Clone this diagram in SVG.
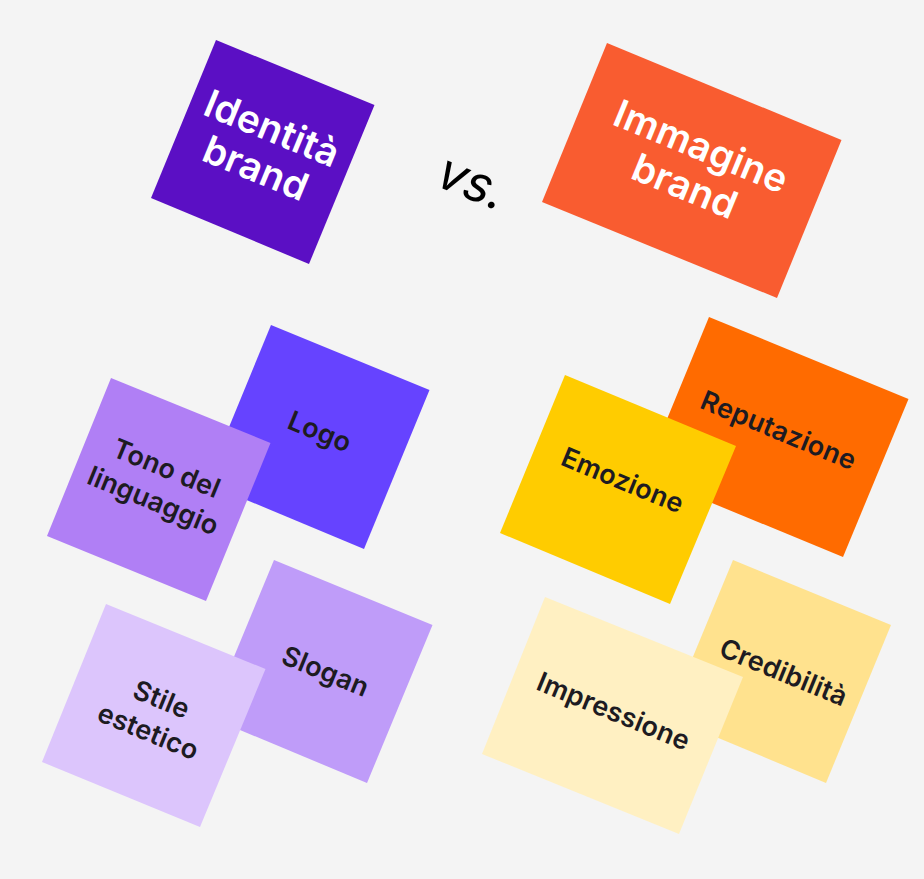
<svg xmlns="http://www.w3.org/2000/svg" width="924" height="879" viewBox="0 0 924 879">
<style>
text{font-family:Inter,"Liberation Sans",sans-serif;text-anchor:middle}
.h{font-size:38.5px;font-weight:600;fill:#fff;letter-spacing:.2px}
.t{font-size:27px;font-weight:600;fill:#1d1b22;letter-spacing:.2px}
</style>
<rect width="924" height="879" fill="#f4f4f4"/>
<g id="identita"><polygon points="216,40 374.500,105 309,264 151,198" fill="#5b0fc4"/>
<text class="h" transform="translate(267,141) rotate(22.4)"><tspan x="0" y="0">Identità</tspan><tspan x="0" y="43">brand</tspan></text></g>
<g id="vs"><text transform="translate(471,186) rotate(22.4)" y="13" font-size="51" font-style="italic" fill="#000">vs.</text></g>
<g id="immagine"><polygon points="607,43 841.500,140 777,298 542,202" fill="#f95c30"/>
<text class="h" transform="translate(696,159) rotate(22.4)"><tspan x="0" y="0">Immagine</tspan><tspan x="0" y="43">brand</tspan></text></g>
<g id="logo"><polygon points="271,325 429.500,390 364,549 206,483" fill="#6643ff"/>
<text class="t" transform="translate(320,431) rotate(22.4)" y="10">Logo</text></g>
<g id="tono"><polygon points="111,378 270.500,443 206,601 47,536" fill="#b07ff5"/>
<text class="t" transform="translate(163,477) rotate(22.4)"><tspan x="0" y="0">Tono del</tspan><tspan x="0" y="35">linguaggio</tspan></text></g>
<g id="slogan"><polygon points="274,560 432.500,625 367,783 209,717" fill="#bf9cf9"/>
<text class="t" transform="translate(322,680) rotate(22.4)"><tspan x="0" y="0">Slogan</tspan></text></g>
<g id="stile"><polygon points="106,604 265.500,669 200,827 42,762" fill="#dcc5fc"/>
<text class="t" transform="translate(158,708) rotate(22.4)"><tspan x="0" y="0">Stile</tspan><tspan x="0" y="35">estetico</tspan></text></g>
<g id="reputazione"><polygon points="709,317 908.500,399 843,557 644,475" fill="#ff6b00"/>
<text class="t" transform="translate(775,439) rotate(22.4)">Reputazione</text></g>
<g id="emozione"><polygon points="565,375 736,446 670,604 500,533" fill="#ffcc00"/>
<text class="t" transform="translate(619,489) rotate(22.4)">Emozione</text></g>
<g id="credibilita"><polygon points="733,560 891,625 826,783 668,717" fill="#ffe28e"/>
<text class="t" transform="translate(780,681) rotate(22.4)">Credibilità</text></g>
<g id="impressione"><polygon points="545,597 743,677 679,834 482,754" fill="#fff0c2"/>
<text class="t" transform="translate(610,720) rotate(22.4)">Impressione</text></g>
</svg>
